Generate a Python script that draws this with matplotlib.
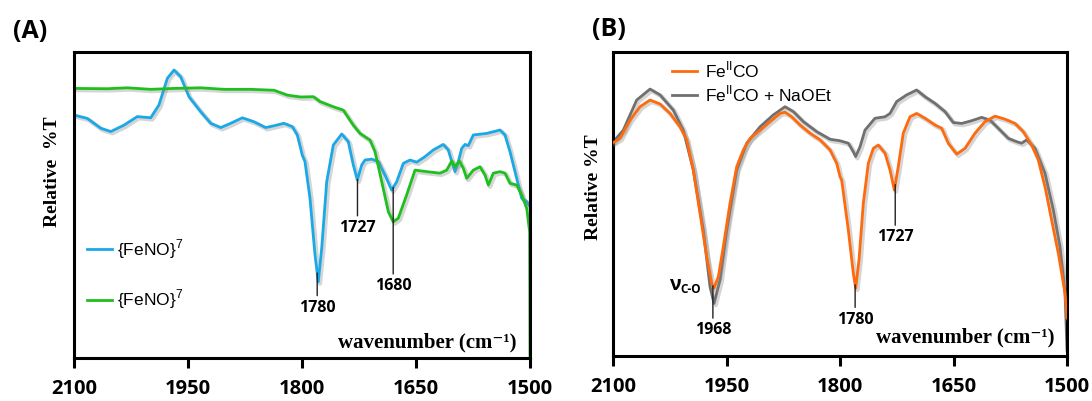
import numpy as np
import matplotlib
matplotlib.use('Agg')
import matplotlib.pyplot as plt
import matplotlib.patheffects as pe

plt.rcParams['mathtext.fontset'] = 'custom'
plt.rcParams['mathtext.rm'] = 'Liberation Serif:bold'
plt.rcParams['mathtext.bf'] = 'Liberation Serif:bold'
plt.rcParams['mathtext.sf'] = 'Liberation Sans'

# ---------------- Panel A data ----------------
a_blue_wn = [2100, 2082.5, 2064.9, 2051.7, 2034.2, 2016.7, 1999.1, 1988.2, 1977.2, 1968.4,
             1959.6, 1948.7, 1933.3, 1920.1, 1907.0, 1893.8, 1878.5, 1863.2, 1847.8, 1836.8,
             1823.7, 1812.7, 1806.2, 1799.6, 1796.1, 1789.5, 1782.9, 1778.6, 1774.1, 1767.5,
             1758.8, 1747.8, 1739.1, 1732.5, 1727.2, 1721.4, 1717.1, 1708.3, 1699.6, 1690.8,
             1682.0, 1675.4, 1666.7, 1657.9, 1649.1, 1638.2, 1627.2, 1614.1, 1607.5, 1603.0,
             1598.7, 1594.3, 1589.9, 1585.5, 1581.2, 1574.6, 1557.0, 1539.5, 1532.9, 1526.3,
             1517.5, 1510.9, 1504.3, 1500]
a_blue_t = [79.4, 78.3, 75.1, 74.0, 76.1, 78.9, 78.5, 82.7, 91.4, 94.1,
            91.9, 85.4, 80.5, 76.7, 75.3, 76.7, 78.5, 77.2, 75.3, 75.9,
            76.7, 75.6, 72.9, 66.3, 64.2, 52.2, 33.7, 24.9, 35.8, 57.6,
            69.6, 73.2, 70.7, 63.1, 58.2, 63.1, 64.7, 65.0, 64.2, 59.8,
            54.9, 57.6, 63.6, 64.7, 64.0, 65.8, 68.0, 69.8, 68.0, 64.2,
            60.9, 64.2, 68.5, 69.8, 69.4, 72.9, 73.4, 74.5, 72.9, 67.4,
            58.7, 52.2, 51.1, 49.5]

a_green_wn = [2100, 2056.1, 2029.8, 1999.1, 1968.4, 1933.3, 1902.6, 1867.5, 1836.8, 1819.3,
              1801.7, 1785.0, 1776.3, 1758.8, 1745.7, 1732.5, 1723.7, 1710.5, 1703.9, 1695.1,
              1686.4, 1679.9, 1673.3, 1662.3, 1651.3, 1635.9, 1618.4, 1609.6, 1603.0, 1598.7,
              1593.0, 1587.7, 1583.3, 1574.6, 1565.8, 1559.2, 1554.8, 1548.3, 1539.5, 1532.9,
              1526.3, 1517.5, 1510.9, 1504.3, 1500.5, 1500]
a_green_t = [88.1, 88.0, 88.3, 87.8, 88.1, 88.3, 87.8, 87.8, 87.5, 85.9,
             85.3, 85.4, 83.8, 82.1, 81.0, 76.1, 73.4, 71.2, 67.4, 57.6,
             47.8, 44.5, 45.7, 53.3, 61.4, 60.9, 60.4, 61.4, 64.4, 62.5,
             64.4, 62.0, 58.7, 61.4, 62.5, 59.8, 56.5, 60.4, 60.9, 60.4,
             57.1, 56.5, 53.3, 48.9, 41.3, 0.0]

# ---------------- Panel B data ----------------
b_orange_wn = [2099.6, 2090.7, 2077.5, 2064.3, 2051.1, 2037.9, 2024.7, 2011.5, 2002.6, 1993.9,
               1985.0, 1976.2, 1969.6, 1966.5, 1960.8, 1954.2, 1945.4, 1936.5, 1927.8, 1918.9,
               1905.7, 1892.5, 1879.3, 1872.7, 1863.9, 1852.9, 1839.7, 1826.4, 1813.2, 1804.4,
               1800.0, 1797.8, 1789.0, 1782.4, 1779.3, 1774.9, 1769.2, 1762.6, 1756.0, 1749.4,
               1740.5, 1733.9, 1728.2, 1723.0, 1716.4, 1707.5, 1698.7, 1687.7, 1674.5, 1665.6,
               1656.9, 1645.8, 1634.8, 1621.6, 1608.4, 1595.2, 1581.9, 1568.7, 1557.8, 1546.7,
               1538.0, 1529.1, 1520.3, 1511.5, 1502.6, 1500]
b_orange_t = [70.2, 71.6, 77.6, 82.0, 84.2, 82.9, 79.8, 75.4, 71.1, 61.2,
              46.9, 32.7, 23.9, 22.3, 26.1, 36.0, 50.2, 62.3, 67.8, 71.6,
              74.3, 77.1, 79.8, 80.2, 78.7, 76.0, 73.3, 71.1, 67.8, 63.4,
              59.0, 57.9, 41.4, 27.2, 22.3, 31.6, 50.2, 63.4, 68.3, 69.4,
              66.7, 61.2, 54.6, 62.3, 73.3, 78.7, 79.8, 78.2, 76.0, 74.9,
              70.0, 66.4, 68.3, 73.3, 77.1, 78.9, 77.9, 76.5, 73.8, 69.4,
              64.5, 55.7, 44.7, 33.8, 20.6, 12.5]

b_gray_wn = [2099.6, 2086.4, 2068.7, 2051.1, 2037.9, 2020.3, 2007.1, 1993.9, 1980.7, 1971.8,
             1966.5, 1958.6, 1949.7, 1936.5, 1923.3, 1905.7, 1888.2, 1872.7, 1861.7, 1848.5,
             1830.8, 1813.2, 1800.0, 1789.0, 1782.4, 1779.3, 1773.6, 1767.0, 1753.8, 1740.5,
             1733.9, 1725.1, 1711.9, 1698.7, 1687.7, 1674.5, 1661.3, 1650.3, 1639.2, 1626.0,
             1612.8, 1601.8, 1590.8, 1577.6, 1566.6, 1560.0, 1553.3, 1542.3, 1529.1, 1518.1,
             1509.3, 1502.6, 1500]
b_gray_t = [70.5, 74.3, 84.2, 87.8, 85.9, 80.9, 74.3, 61.2, 41.4, 22.8,
            17.3, 25.0, 41.4, 61.2, 70.0, 75.4, 79.3, 82.0, 80.4, 77.1,
            73.8, 71.3, 70.8, 70.0, 67.2, 65.6, 68.8, 74.3, 78.2, 78.7,
            79.8, 83.7, 85.9, 87.5, 85.3, 83.1, 80.4, 76.8, 76.5, 77.4,
            78.5, 77.6, 74.9, 71.6, 70.5, 70.0, 71.1, 68.3, 60.1, 48.0,
            36.0, 20.6, 2.0]

xticks = [2100, 1950, 1800, 1650, 1500]
a_labels = [r'{FeNO}$^{\mathsf{7}}$', r'{FeNO}$^{\mathsf{7}}$']
b_labels = [r'Fe$^{\mathsf{II}}$CO', r'Fe$^{\mathsf{II}}$CO + NaOEt']
a_peaks = [1780, 1727, 1680]
b_peaks = [1968, 1780, 1727]

# colours / styles
c_blue = '#1aa9e6'
c_green = '#1ec01e'
c_orange = '#ff6a0d'
c_gray = '#707070'
sans_bold = 'Open Sans'
tick_font = dict(family=sans_bold, weight='bold', size=14.5)
serif_bold = dict(family=['Liberation Serif', 'DejaVu Serif'], weight='bold')

fig = plt.figure(figsize=(10.92, 4.01), dpi=100)
axA = fig.add_axes([74/1092, 43/401, 456/1092, 306/401])
axB = fig.add_axes([613/1092, 45/401, 454/1092, 304/401])

shadow = [pe.SimpleLineShadow(offset=(1.2, -1.2), shadow_color='#888888', alpha=0.35, linewidth=3.2), pe.Normal()]


def style_axes(ax):
    ax.set_xlim(2100, 1500)
    ax.set_ylim(0, 100)
    for s in ax.spines.values():
        s.set_linewidth(2.2)
        s.set_color('black')
    ax.set_yticks([])
    ax.set_xticks(xticks)
    ax.set_xticklabels([str(t) for t in xticks], fontdict=tick_font)
    ax.tick_params(axis='x', direction='out', length=7, width=2.2, pad=8)


def peak_y(wn, t, w):
    return np.interp(w, np.array(wn)[::-1], np.array(t)[::-1])


# ---------------- Panel A ----------------
axA.plot(a_blue_wn, a_blue_t, color=c_blue, lw=2.0, label=a_labels[0], path_effects=shadow)
axA.plot(a_green_wn, a_green_t, color=c_green, lw=2.0, label=a_labels[1], path_effects=shadow)
style_axes(axA)
legA = axA.legend(loc='upper left', bbox_to_anchor=(0.0285, 0.395), frameon=False,
                  prop=dict(family='Liberation Sans', size=12.5), handlelength=1.45,
                  handletextpad=0.3, labelspacing=1.55, borderpad=0, borderaxespad=0)
for h in legA.get_lines():
    h.set_path_effects([])

a_offsets = [25, 35, 71]
for w, off in zip(a_peaks, a_offsets):
    yv = peak_y(a_blue_wn, a_blue_t, w)
    axA.annotate(str(w), xy=(w, yv), xytext=(0, -off), textcoords='offset points',
                 ha='center', va='center', fontfamily=sans_bold, fontweight='bold', fontsize=11.5,
                 arrowprops=dict(arrowstyle='-', color='#222222', lw=1.0, shrinkA=1, shrinkB=0))

axA.text(-0.048, 0.61, 'Relative  %T', rotation=90, transform=axA.transAxes,
         ha='center', va='center', fontsize=14, **serif_bold)
axA.text(0.775, 0.05, 'wavenumber (cm⁻¹)', transform=axA.transAxes,
         ha='center', va='center', fontsize=15, **serif_bold)

# ---------------- Panel B ----------------
axB.plot(b_orange_wn, b_orange_t, color=c_orange, lw=2.0, label=b_labels[0], path_effects=shadow, zorder=3)
axB.plot(b_gray_wn, b_gray_t, color=c_gray, lw=2.0, label=b_labels[1], path_effects=shadow, zorder=2)
style_axes(axB)
legB = axB.legend(loc='upper left', bbox_to_anchor=(0.13, 0.975), frameon=False,
                  prop=dict(family='Liberation Sans', size=12.5), handlelength=1.45,
                  handletextpad=0.45, labelspacing=0.2, borderpad=0, borderaxespad=0)
for h in legB.get_lines():
    h.set_path_effects([])

b_offsets = [32, 25, 38]
for w, off in zip(b_peaks, b_offsets):
    yv = peak_y(b_orange_wn, b_orange_t, w)
    axB.annotate(str(w), xy=(w, yv), xytext=(0, -off), textcoords='offset points',
                 ha='center', va='center', fontfamily=sans_bold, fontweight='bold', fontsize=11.5,
                 arrowprops=dict(arrowstyle='-', color='#222222', lw=1.0, shrinkA=1, shrinkB=0))

y1968 = peak_y(b_orange_wn, b_orange_t, b_peaks[0])
axB.annotate('ν', xy=(b_peaks[0], y1968), xytext=(-27, 0.8), textcoords='offset points',
             ha='center', va='center', family=[sans_bold, 'DejaVu Sans'], fontweight='bold', fontsize=14)
axB.annotate('C-O', xy=(b_peaks[0], y1968), xytext=(-15.8, -2.5), textcoords='offset points',
             ha='center', va='center', family=sans_bold, fontweight='bold', fontsize=8.5)

axB.text(-0.044, 0.556, 'Relative %T', rotation=90, transform=axB.transAxes,
         ha='center', va='center', fontsize=14, **serif_bold)
axB.text(0.775, 0.06, 'wavenumber (cm⁻¹)', transform=axB.transAxes,
         ha='center', va='center', fontsize=15, **serif_bold)

fig.text(30/1092, 1 - 31/401, '(A)', ha='center', va='center', family=sans_bold, fontweight='bold', fontsize=18)
fig.text(609/1092, 1 - 30/401, '(B)', ha='center', va='center', family=sans_bold, fontweight='bold', fontsize=18)

fig.savefig('out.png', dpi=100)
